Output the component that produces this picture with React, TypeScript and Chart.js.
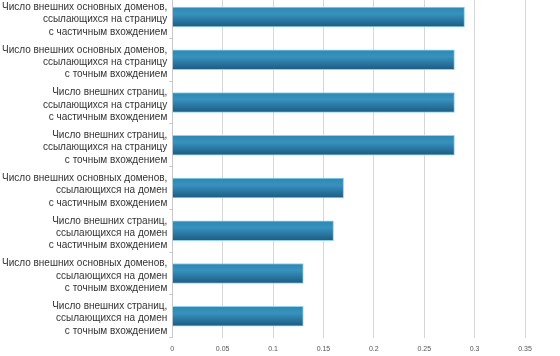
import React, { useEffect, useRef } from "react";
import { Chart, registerables } from "chart.js";

Chart.register(...registerables);

const categories: string[][] = [
  ["Число внешних основных доменов,", "ссылающихся на страницу", "с частичным вхождением"],
  ["Число внешних основных доменов,", "ссылающихся на страницу", "с точным вхождением"],
  ["Число внешних страниц,", "ссылающихся на страницу", "с частичным вхождением"],
  ["Число внешних страниц,", "ссылающихся на страницу", "с точным вхождением"],
  ["Число внешних основных доменов,", "ссылающихся на домен", "с частичным вхождением"],
  ["Число внешних страниц,", "ссылающихся на домен", "с частичным вхождением"],
  ["Число внешних основных доменов,", "ссылающихся на домен", "с точным вхождением"],
  ["Число внешних страниц,", "ссылающихся на домен", "с точным вхождением"],
];

const values: number[] = [0.29, 0.28, 0.28, 0.28, 0.17, 0.16, 0.13, 0.13];

const xTickLabels: string[] = ["0", "0.05", "0.1", "0.15", "0.2", "0.25", "0.3", "0.35"];

const BAR_H = 20;

export default function App() {
  const ref = useRef<HTMLCanvasElement | null>(null);

  useEffect(() => {
    const canvas = ref.current;
    if (!canvas) return;
    const chart = new Chart(canvas, {
      type: "bar",
      data: {
        labels: categories,
        datasets: [
          {
            data: values,
            barThickness: BAR_H,
            borderWidth: 1,
            borderColor: "rgba(140,210,238,0.95)",
            backgroundColor: (ctx: any) => {
              const c = ctx.chart;
              const y = c.scales && c.scales.y;
              const idx = ctx.dataIndex;
              if (!y || typeof idx !== "number") return "#2c7fab";
              const center = y.getPixelForValue(idx);
              if (!isFinite(center)) return "#2c7fab";
              const g = c.ctx.createLinearGradient(0, center - BAR_H / 2, 0, center + BAR_H / 2);
              g.addColorStop(0, "#2f87b2");
              g.addColorStop(0.35, "#3792be");
              g.addColorStop(1, "#1c5a82");
              return g;
            },
          },
        ],
      },
      options: {
        indexAxis: "y",
        responsive: false,
        animation: false,
        layout: { padding: { top: 0, right: 35, left: 0, bottom: 0 } },
        plugins: { legend: { display: false }, tooltip: { enabled: false } },
        scales: {
          x: {
            min: 0,
            max: 0.35,
            ticks: {
              stepSize: 0.05,
              color: "#555",
              font: { family: "Liberation Sans, Arial", size: 7 },
              padding: 7,
              callback: (_v: any, i: number) => xTickLabels[i],
            },
            grid: { color: "#d6d6d6", tickLength: 0 },
            border: { display: false },
          },
          y: {
            ticks: {
              color: "#333",
              font: { family: "Liberation Sans, Arial", size: 10, lineHeight: 1.24 },
              padding: 2,
              crossAlign: "near",
              labelOffset: 2.5,
            },
            grid: { drawOnChartArea: false, color: "#c8c8c8", tickLength: 3 },
            border: { display: true, color: "#c8c8c8" },
          },
        },
      },
    } as any);
    return () => chart.destroy();
  }, []);

  return (
    <div style={{ position: "absolute", left: 0, top: -25, width: 560, height: 385 }}>
      <canvas ref={ref} width={560} height={385} />
    </div>
  );
}
